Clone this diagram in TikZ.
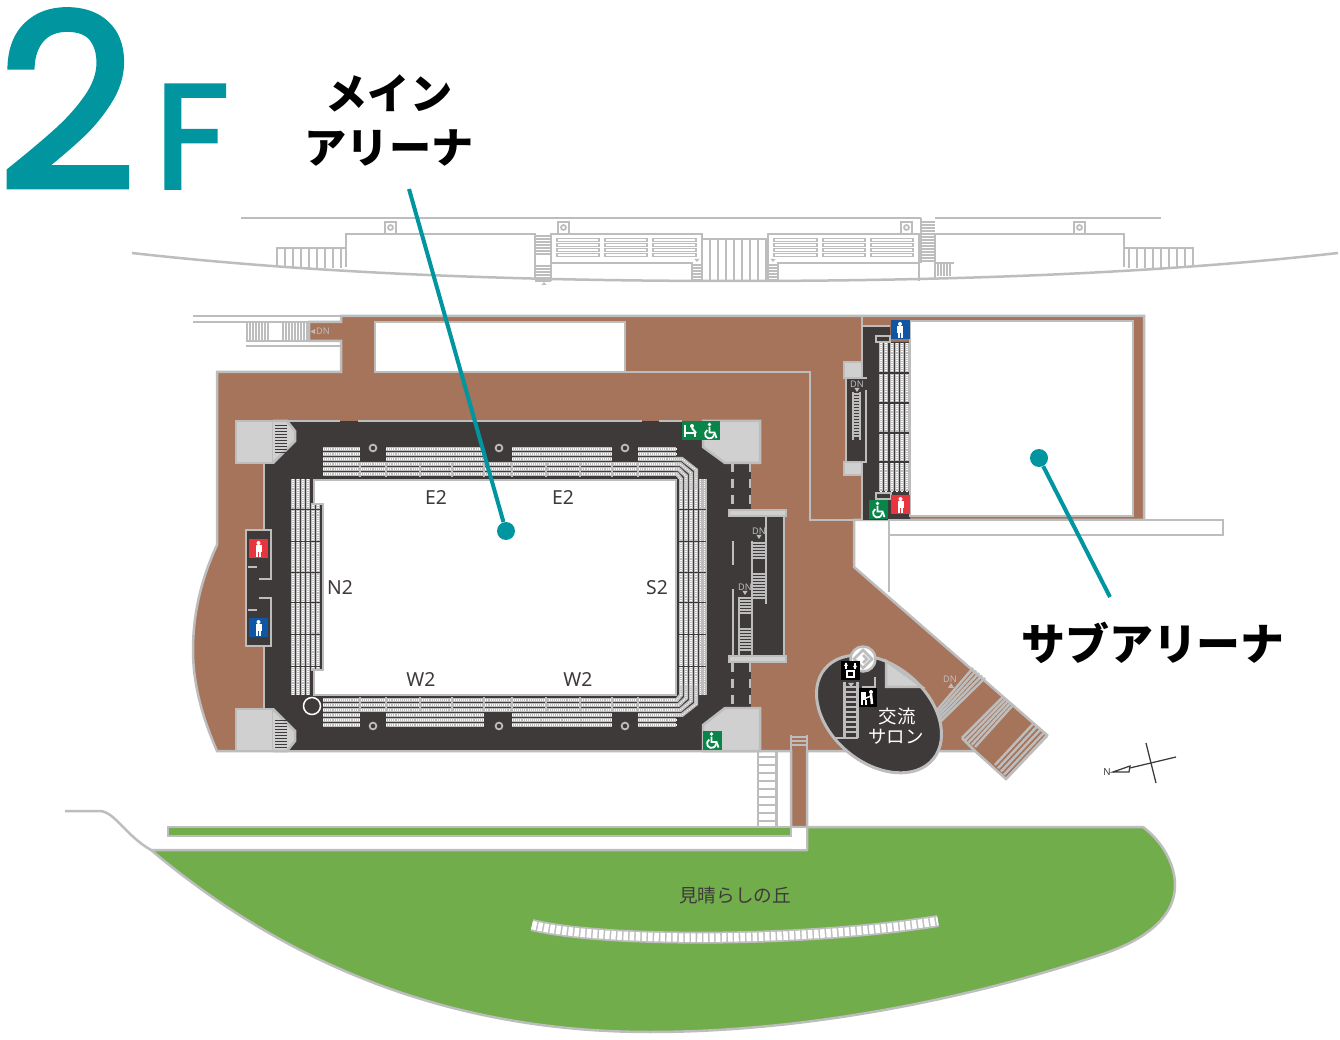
\documentclass[tikz,border=0pt]{standalone}
\usepackage{fontspec}
\setmainfont{Noto Sans}
\newfontfamily\jpfont{Noto Sans CJK JP}
\newfontfamily\titlefont[FakeBold=2.4]{Poppins}
\usetikzlibrary{calc}

\definecolor{floorbrown}{HTML}{A5745A}
\definecolor{hallgrey}{HTML}{3E3A39}
\definecolor{wallgrey}{HTML}{BDBDBD}
\definecolor{liftgrey}{HTML}{D0D0D0}
\definecolor{lawngreen}{HTML}{72AD4C}
\definecolor{leadteal}{HTML}{00959F}
\definecolor{signred}{HTML}{E8343F}
\definecolor{signblue}{HTML}{0F57A3}
\definecolor{signgreen}{HTML}{0A8549}

\tikzset{
  wall/.style={draw=wallgrey,line width=0.05cm},
  thinwall/.style={draw=wallgrey,line width=0.035cm},
  hairwall/.style={draw=wallgrey,line width=0.022cm},
  seatbar/.style={draw=wallgrey,line width=0.08cm},
  seatdot/.style={draw=white,line width=0.022cm,dash pattern=on 0.5pt off 0.7pt},
  lead/.style={draw=leadteal,line width=0.08cm},
  leaddot/.style={circle,fill=leadteal,inner sep=0pt,minimum size=0.36cm},
  bigtitle/.style={text=leadteal,inner sep=0pt,anchor=base},
  arenaname/.style={font=\jpfont\bfseries\fontsize{24}{24}\selectfont,inner sep=0pt},
  standname/.style={text=hallgrey,font=\fontsize{11}{11}\selectfont,inner sep=0pt},
  dnmark/.style={text=wallgrey,font=\fontsize{5.2}{5.5}\selectfont,inner sep=0pt},
  salonname/.style={text=white,font=\jpfont\fontsize{10.5}{10.5}\selectfont,inner sep=0pt},
}

\newcommand{\seatrun}[1]{\draw[seatbar] #1; \draw[seatdot] #1;}
\newcommand{\dntip}[2]{\fill[wallgrey] (#1-2.5,#2) -- (#1+2.5,#2) -- (#1,#2+4) -- cycle;}
\newcommand{\signbase}[3]{\fill[#3] (#1-9.5,#2-9.5) rectangle (#1+9.5,#2+9.5);}

\newcommand{\persign}[3]{
  \signbase{#1}{#2}{#3}
  \begin{scope}[shift={(#1,#2)}]
    \fill[white] (0,-6) circle (2);
    \fill[white] (-3,-3.5) rectangle (3,3);
    \fill[white] (-2.5,3) rectangle (-0.5,8);
    \fill[white] (0.5,3) rectangle (2.5,8);
  \end{scope}}

\newcommand{\wheelsign}[2]{
  \signbase{#1}{#2}{signgreen}
  \begin{scope}[shift={(#1,#2)}]
    \fill[white] (-1,-6.5) circle (1.9);
    \draw[white,line width=0.035cm] (-1,-4) -- (-1,1.5) -- (4,1.5) -- (6,7);
    \draw[white,line width=0.035cm] (-3.25,-0.9) arc[start angle=-120,end angle=-360,radius=4.5];
  \end{scope}}

\newcommand{\easthalf}{
  \foreach \y in {449,454,459}
    \foreach \a/\b in {323/360,386/484,512/612,638/676}
      {\seatrun{(\a,\y)--(\b,\y)}}
  \foreach \y in {464,469,474}
    {\seatrun{(323,\y)--(676,\y)}}
  \foreach \x in {360,386,420,452,484,512,546,580,612,638}
    \draw[wall] (\x,462) -- (\x,477);
  \foreach \i in {0,...,3}
    {\seatrun{(674,459+5*\i) -- (682-1.7*\i,459+5*\i) -- (696-5*\i,470+3*\i) -- (696-5*\i,490)}}
}

\newcommand{\skybridge}{
  \draw[wall] (346,267) -- (346,234) -- (535,234) -- (535,278);
  \draw[wall] (277,265) -- (277,248) -- (346,248);
  \foreach \x in {285,293,...,341}
    \draw[thinwall] (\x,248) -- (\x,268);
  \draw[wall] (551,262) -- (551,234) -- (702,234) -- (702,281);
  \draw[wall] (551,281) -- (551,263) -- (692,263) -- (692,281);
  \foreach \y in {240,245,250,255}
    \foreach \a/\b in {557/599,605/647,653/696}
      {\draw[hairwall] (\a,\y-1.5) rectangle (\b,\y+1.5);}
  \foreach \y in {265,268,...,280}
    \draw[thinwall] (692,\y) -- (702,\y);
  \fill[wallgrey] (694.5,259) -- (699.5,259) -- (697,262) -- cycle;
  \draw[thinwall] (385,222) rectangle (396,234);
  \draw[thinwall] (390.5,227.5) circle (2.5);
  \draw[thinwall] (558,222) rectangle (569,234);
  \draw[thinwall] (563.5,227.5) circle (2.5);
}

\begin{document}
\begin{tikzpicture}[x=0.02cm,y=-0.02cm]
  \useasboundingbox (0,0) rectangle (1340,1040);
  \fill[white] (0,0) rectangle (1340,1040);

  % the bridge along the top
  \draw[wall] (132,253) .. controls (300,272) and (500,281) .. (735,281)
    .. controls (970,281) and (1170,272) .. (1338,253);
  \draw[wall] (241,218) -- (921,218);
  \draw[wall] (935,218) -- (1161,218);
  \skybridge
  \begin{scope}[shift={(1470,0)},xscale=-1]
    \skybridge
  \end{scope}
  \foreach \y in {236,239,...,254}
    \draw[thinwall] (535,\y) -- (551,\y);
  \foreach \y in {266,269,...,281}
    \draw[thinwall] (535,\y) -- (551,\y);
  \fill[wallgrey] (544,282) -- (541.5,285) -- (546.5,285) -- cycle;
  \foreach \y in {222,225,...,261}
    \draw[thinwall] (921,\y) -- (935,\y);
  \draw[wall] (921,218) -- (921,263);
  \foreach \x in {938,941,...,950}
    \draw[thinwall] (\x,264) -- (\x,276);
  \draw[wall] (935,263) -- (954,263);
  \foreach \x in {702,710,...,768}
    \draw[thinwall] (\x,239) -- (\x,281);
  \draw[wall] (702,239) -- (768,239);

  % the floor
  \filldraw[wall,fill=floorbrown,line join=miter]
    (217,372) -- (341,372) -- (341,346) -- (341,341) -- (309,341) -- (309,322)
    -- (341,322) -- (341,316) -- (1144,316) -- (1144,520) -- (854,520) -- (854,567)
    -- (1047,735) -- (1006,779) -- (975,751) -- (807,751) -- (807,827) -- (791,827)
    -- (791,751) -- (217,751) .. controls (200,712) and (193,680) .. (193,650)
    .. controls (193,610) and (203,575) .. (217,545) -- cycle;
  \draw[wall] (975,751) -- (962,738);
  \filldraw[wall,fill=white] (375,322) rectangle (625,372);
  \draw[wall] (625,372) -- (810,372) -- (810,520) -- (862,520);

  % stairs at the top left
  \draw[thinwall] (193,316) -- (341,316);
  \draw[thinwall] (193,322) -- (341,322);
  \draw[thinwall] (246,341) -- (341,341);
  \draw[thinwall] (246,346) -- (341,346);
  \foreach \x in {247,250,...,268,283,286,...,307}
    \draw[thinwall] (\x,322) -- (\x,341);
  \node[dnmark] (dntop) at (323,331.5) {DN};
  \fill[wallgrey] (310.5,331.5) -- (315,329) -- (315,334) -- cycle;

  % main arena hall
  \fill[hallgrey] (264,421) rectangle (751,751);
  \fill[hallgrey] (729,510) rectangle (785,660);
  \draw[wall] (264,463) -- (264,530);
  \draw[wall] (264,646) -- (264,708);
  \draw[wall] (273,421) -- (340,421);
  \draw[wall] (358,421) -- (642,421);
  \draw[wall] (659,421) -- (682,421);
  \draw[wall] (217,751) -- (791,751);
  \filldraw[wall,fill=white] (314,480) rectangle (676,695);

  % seats
  \easthalf
  \begin{scope}[shift={(0,1174)},yscale=-1]
    \easthalf
  \end{scope}
  \foreach \x in {681,686,691,696}
    {\seatrun{(\x,490)--(\x,684)}}
  \foreach \x in {700.5,704.5}
    {\seatrun{(\x,479)--(\x,695)}}
  \foreach \x in {293,298,303,308}
    {\seatrun{(\x,479)--(\x,695)}}
  \fill[hallgrey] (311,504) rectangle (323,670);
  \foreach \x in {313,318}
    {\seatrun{(\x,505)--(\x,669)}}
  \draw[wall] (311,504) -- (323,504) -- (323,670) -- (311,670);
  \foreach \y in {510,542,573,603,635,667}
    {\draw[hallgrey,line width=0.02cm] (678.5,\y) -- (706,\y);
     \draw[hallgrey,line width=0.02cm] (291,\y) -- (320,\y);}
  \foreach \x/\y in {373/448,499/448,625/448,373/726,499/726,625/726}
    \draw[thinwall] (\x,\y) circle (3.4);
  \draw[white,line width=0.03cm] (312,706) circle (8.5);

  % corner lifts
  \filldraw[wall,fill=liftgrey] (236,421) rectangle (273,463);
  \filldraw[wall,fill=liftgrey] (273,463) -- (295,441) -- (295,431) -- (287,421) -- (273,421);
  \filldraw[wall,fill=liftgrey] (236,709) rectangle (273,751);
  \filldraw[wall,fill=liftgrey] (273,709) -- (295,731) -- (295,741) -- (287,751) -- (273,751);
  \foreach \y in {426,429,...,453}
    \draw[draw=hallgrey,line width=0.02cm] (275,\y) -- (287,\y);
  \foreach \y in {720,723,...,748}
    \draw[draw=hallgrey,line width=0.02cm] (275,\y) -- (287,\y);
  \filldraw[wall,fill=liftgrey] (703,421) -- (760,421) -- (760,463) -- (725,463) -- (703,447) -- cycle;
  \filldraw[wall,fill=liftgrey] (725,708) -- (760,708) -- (760,751) -- (703,751) -- (703,725) -- cycle;

  % west toilets
  \fill[hallgrey] (246,530) rectangle (271,646);
  \draw[wall] (259,579) -- (271,579) -- (271,530) -- (246,530) -- (246,646) -- (271,646) -- (271,598) -- (259,598);
  \draw[wall] (248,567) -- (257,567);
  \draw[wall] (248,610) -- (257,610);
  \persign{258.5}{549}{signred}
  \persign{258.5}{628}{signblue}

  % stairs on the south side
  \foreach \y in {463,479,495}
    {\draw[wall] (732.5,\y) -- (732.5,\y+9); \draw[wall] (750,\y) -- (750,\y+9);}
  \foreach \y in {663,679,695}
    {\draw[wall] (732.5,\y) -- (732.5,\y+9); \draw[wall] (750,\y) -- (750,\y+9);}
  \draw[wall] (733,541) -- (733,565);
  \draw[wall] (733,589) -- (733,655);
  \filldraw[wall,fill=liftgrey] (729,510) rectangle (786,516);
  \filldraw[wall,fill=liftgrey] (729,656) rectangle (786,662);
  \draw[wall] (784,516) -- (784,656);
  \draw[wall] (766,516) -- (766,604);
  \draw[wall] (752,541) -- (752,656);
  \draw[wall] (739,597) -- (739,656);
  \foreach \y in {543,546,...,559,574,577,...,600}
    \draw[thinwall] (752,\y) -- (766,\y);
  \foreach \y in {598,601,...,615,629,632,...,652}
    \draw[thinwall] (739,\y) -- (752,\y);
  \node[dnmark] (dneast) at (759,531) {DN};
  \dntip{759}{535}
  \node[dnmark] (dnwest) at (745,587) {DN};
  \dntip{745}{591}

  % sub arena
  \fill[hallgrey] (862,327) -- (890,327) -- (890,342) -- (910,342) -- (910,520) -- (862,520) -- cycle;
  \draw[wall] (862,316) -- (862,520);
  \draw[wall] (862,326) -- (890,326);
  \filldraw[wall,fill=white] (910,321) rectangle (1133,516);
  \foreach \x in {881,886,892,897,902,907}
    {\seatrun{(\x,343)--(\x,491)}}
  \foreach \y in {373,403,433,462}
    \draw[hallgrey,line width=0.03cm] (879,\y) -- (909,\y);
  \filldraw[wall,fill=hallgrey] (876,336) rectangle (890,342);
  \filldraw[wall,fill=hallgrey] (876,493) rectangle (891,499);
  \filldraw[wall,fill=liftgrey] (844,362) rectangle (862,378);
  \filldraw[wall,fill=liftgrey] (844,462) rectangle (862,475);
  \fill[hallgrey] (846,378) rectangle (866,462);
  \draw[wall] (846,378) -- (846,462);
  \draw[wall] (846,378) -- (867,378);
  \draw[wall] (866,390) -- (866,462) -- (846,462);
  \draw[wall] (853,392) -- (853,440) (860,392) -- (860,440);
  \foreach \y in {394,397,...,438}
    \draw[thinwall] (853,\y) -- (860,\y);
  \node[dnmark] (dnsub) at (857,384) {DN};
  \dntip{857}{388}
  \persign{900}{330}{signblue}
  \persign{900.5}{505}{signred}
  \wheelsign{878.5}{510}

  % signs of the main hall
  \signbase{691}{431}{signgreen}
  \draw[white,line width=0.04cm] (685,425) -- (685,437) (685,433) -- (695,433) -- (695,437);
  \fill[white] (692,426) circle (2);
  \draw[white,line width=0.04cm] (692,428) -- (696,433);
  \wheelsign{710.5}{431}
  \wheelsign{712.5}{740.5}

  % white frames beyond the floor
  \filldraw[wall,fill=white] (889,520) rectangle (1223,535);
  \draw[wall] (889,535) -- (889,592);
  \fill[white] (856,522) rectangle (887,564);

  % lawn and walkway
  \filldraw[wall,fill=lawngreen,line join=round] (151,850) -- (807,850) -- (807,827) -- (1143,827)
    .. controls (1163,842) and (1175,865) .. (1175,885)
    .. controls (1175,920) and (1140,942) .. (1100,955)
    .. controls (950,1005) and (790,1032) .. (650,1032)
    .. controls (430,1032) and (270,950) .. (151,850) -- cycle;
  \draw[wall] (65,811) -- (100,811) .. controls (115,812) and (125,835) .. (151,850);
  \filldraw[wall,fill=lawngreen] (168,827) rectangle (791,836);
  \draw[wall] (791,735) -- (791,836);
  \draw[wall] (807,735) -- (807,827);
  \foreach \y in {737,741,745}
    \draw[thinwall] (791,\y) -- (807,\y);
  \fill[white] (792,828) rectangle (806,849);
  \draw[wall] (758,751) -- (758,827);
  \draw[wall] (776.5,751) -- (776.5,827);
  \foreach \y in {757,765,...,821}
    \draw[thinwall] (758,\y) -- (776.5,\y);
  \draw[line width=0.24cm,draw=wallgrey] (532,925) .. controls (600,942) and (800,943) .. (938,921);
  \draw[line width=0.17cm,draw=white,dash pattern=on 2.6pt off 0.9pt]
    (532,925) .. controls (600,942) and (800,943) .. (938,921);

  % exchange salon
  \filldraw[draw=wallgrey,line width=0.06cm,fill=hallgrey] (879,714) circle[x radius=1.41cm,y radius=0.98cm,rotate=-40];
  \filldraw[wall,fill=liftgrey] (886,661) -- (886,687) -- (922,687) -- cycle;
  \filldraw[wall,fill=white] (863,659) circle (12.5);
  \draw[wall] (863,650) -- (872,659) -- (863,668) -- (854,659) -- cycle;
  \draw[wall] (863,655) -- (867,659) -- (863,663);
  \fill[black] (841,661) rectangle (860,680);
  \draw[white,line width=0.03cm] (846,663) -- (846,669) (855,663) -- (855,669);
  \fill[white] (844,666) -- (848,666) -- (846,662.5) -- cycle;
  \fill[white] (853,666) -- (857,666) -- (855,669.5) -- cycle;
  \fill[white] (846,670) rectangle (855,678);
  \fill[black] (848,672) rectangle (853,676);
  \draw[wall] (875,677) -- (875,687) -- (862,687);
  \draw[wall] (844.5,682) -- (844.5,738) (857.5,682) -- (857.5,738);
  \draw[wall] (835,738) -- (857.5,738);
  \foreach \y in {687,692,...,735}
    \draw[thinwall] (844.5,\y) -- (857.5,\y);
  \fill[wallgrey] (848,683) -- (854,683) -- (851,687) -- cycle;
  \fill[black] (859,688) rectangle (877,707);
  \fill[white] (861,692) rectangle (866,700);
  \draw[white,line width=0.03cm] (862,700) -- (862,705) (866,700) -- (866,705);
  \fill[white] (871,692) circle (2);
  \draw[white,line width=0.05cm] (871,694) -- (872,704);
  \draw[white,line width=0.03cm] (866,698) -- (871,696);
  \node[salonname] (salon1) at (897,717) {交流};
  \node[salonname] (salon2) at (896,737) {サロン};

  % outside stairs
  \foreach \i in {0,...,4}
    {\draw[wall] (937+0.75*\i,710+3*\i) -- (973+3*\i,668+2.5*\i);
     \draw[wall] (962+3.25*\i,738+2.25*\i) -- (1003+2.5*\i,697+2*\i);
     \draw[wall] (995+3*\i,765+3.25*\i) -- (1033+3.5*\i,724+3*\i);}
  \node[dnmark] (dnout) at (950,679) {DN};
  \fill[wallgrey] (951,683) -- (954,688) -- (948,688) -- cycle;

  % north mark
  \draw[hallgrey,line width=0.025cm] (1146,743) -- (1156,783);
  \draw[hallgrey,line width=0.025cm] (1176,757) -- (1113,772);
  \draw[hallgrey,line width=0.025cm,fill=white] (1113,772) -- (1130,766) -- (1129,772) -- cycle;
  \node[text=hallgrey,font=\fontsize{5.5}{6}\selectfont,inner sep=0pt] (northtxt) at (1107,772) {N};

  % stand names
  \node[standname] (e2a) at (436,498) {E2};
  \node[standname] (e2b) at (563,498) {E2};
  \node[standname] (n2) at (340,588) {N2};
  \node[standname] (s2) at (657,588) {S2};
  \node[standname] (w2a) at (421,680) {W2};
  \node[standname] (w2b) at (578,680) {W2};
  \node[text=hallgrey,font=\jpfont\fontsize{10.6}{11}\selectfont,inner sep=0pt] (hill) at (735,895) {見晴らしの丘};

  % title
  \node[bigtitle,font=\titlefont\fontsize{138}{138}\selectfont] (floor2) at (67,188.5) {2};
  \node[bigtitle,font=\titlefont\fontsize{84}{84}\selectfont] (floorf) at (192,188) {F};

  % arena names and their leaders
  \node[arenaname] (mainup) at (389,93) {メイン};
  \node[arenaname] (mainlow) at (389,148) {アリーナ};
  \node[arenaname,font=\jpfont\bfseries\fontsize{25}{25}\selectfont] (sublbl) at (1153,643) {サブアリーナ};
  \coordinate (mainend) at (409,189);
  \coordinate (subend) at (1110,597);
  \node[leaddot] (maindot) at (506,531) {};
  \node[leaddot] (subdot) at (1039,458) {};
  \draw[lead] (mainend) -- (maindot);
  \draw[lead] (subend) -- (subdot);
\end{tikzpicture}
\end{document}
